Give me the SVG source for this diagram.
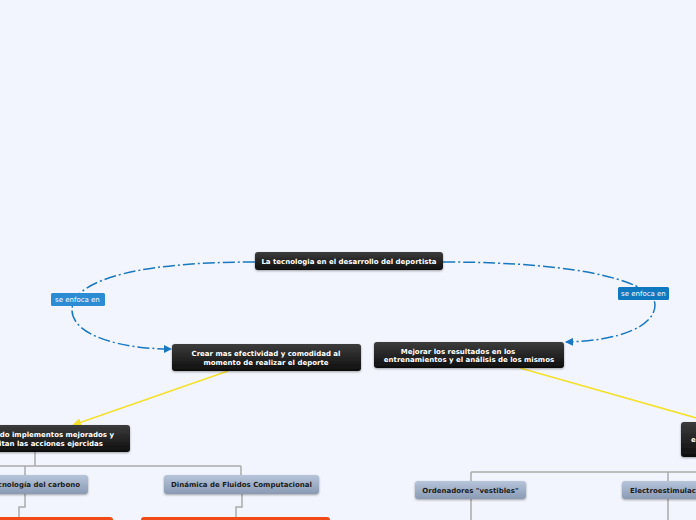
<svg xmlns="http://www.w3.org/2000/svg" width="696" height="520" viewBox="0 0 696 520">
<style>
.dark{fill:url(#gd);}
.gray{fill:url(#gg);}
.orange{fill:#ef4a17;}
.tw{fill:#ffffff;font-family:"DejaVu Sans",sans-serif;font-weight:bold;font-size:7px;}
.tk{fill:#1c1c1c;font-family:"DejaVu Sans",sans-serif;font-weight:bold;font-size:7px;}
.lab{fill:#ffffff;font-family:"DejaVu Sans",sans-serif;font-size:7px;}
.blue{fill:none;stroke:#1878c0;stroke-width:1.5;stroke-dasharray:12,3,2,3;}
.yel{fill:none;stroke:#f5e02a;stroke-width:1.5;}
.gl{fill:none;stroke:#aaaaaa;stroke-width:1.5;}
</style>
<defs>
<linearGradient id="gd" x1="0" y1="0" x2="0" y2="1"><stop offset="0" stop-color="#3c3c3c"/><stop offset="1" stop-color="#0e0e0e"/></linearGradient>
<linearGradient id="gg" x1="0" y1="0" x2="0" y2="1"><stop offset="0" stop-color="#b6c5da"/><stop offset="1" stop-color="#8a9ab3"/></linearGradient>
<filter id="sh" x="-10%" y="-20%" width="120%" height="160%"><feDropShadow dx="0" dy="1" stdDeviation="0.8" flood-color="#000" flood-opacity="0.35"/></filter>
<marker id="ab" markerWidth="8" markerHeight="8" refX="7" refY="4" orient="auto" markerUnits="userSpaceOnUse"><path d="M0,0 L8,4 L0,8 Z" fill="#1878c0"/></marker>
<marker id="ay" markerWidth="9" markerHeight="8" refX="8" refY="4" orient="auto" markerUnits="userSpaceOnUse"><path d="M0,0 L9,4 L0,8 Z" fill="#f5e02a"/></marker>
</defs>
<rect width="696" height="520" fill="#f2f5fd"/>
<g id="connectors">
<path class="blue" d="M255,262 C120,262 72,285 72,310 C72,335 120,349 171,349" marker-end="url(#ab)"/>
<path class="blue" d="M443,262 C590,262 655,284 655,305 C655,326 620,341 566,342" marker-end="url(#ab)"/>
<path class="yel" d="M228,371 L73,425" marker-end="url(#ay)"/>
<path class="yel" d="M520,368 L700,419"/>
<path class="gl" d="M35,452 V466 M0,466 H241 M25,466 V475 M241,466 V475"/>
<path class="gl" d="M25,494 V507 H19 V517 M242,494 V507 H236 V517"/>
<path class="gl" d="M471,472 H700 M471,472 V520 M668,472 V520"/>
<g id="lbl-left"><rect x="51" y="293" width="54" height="13" rx="1.5" fill="#2b8bd3"/><text class="lab" x="55" y="302">se enfoca en</text></g>
<g id="lbl-right"><rect x="618" y="287" width="51" height="13" rx="1.5" fill="#0f78bf"/><text class="lab" x="621" y="296">se enfoca en</text></g>
</g>
<g id="root"><rect class="dark" x="255" y="252" width="188" height="18" rx="3" filter="url(#sh)"/><text class="tw" x="349" y="264" text-anchor="middle">La tecnologia en el desarrollo del deportista</text></g>
<g id="crear"><rect class="dark" x="172" y="344" width="189" height="27" rx="3" filter="url(#sh)"/><text class="tw" x="266" y="356" text-anchor="middle">Crear mas efectividad y comodidad al</text><text class="tw" x="266" y="365" text-anchor="middle">momento de realizar el deporte</text></g>
<g id="mejorar"><rect class="dark" x="374" y="342" width="190" height="26" rx="3" filter="url(#sh)"/><text class="tw" x="458" y="354" text-anchor="middle">Mejorar los resultados en los</text><text class="tw" x="469" y="362" text-anchor="middle">entrenamientos y el análisis de los mismos</text></g>
<g id="implementos"><rect class="dark" x="-20" y="425" width="150" height="27" rx="3" filter="url(#sh)"/><text class="tw" x="114" y="437" text-anchor="end">do implementos mejorados y</text><text class="tw" x="103" y="446" text-anchor="end">itan las acciones ejercidas</text></g>
<g id="right-node"><rect class="dark" x="681" y="422" width="40" height="35" rx="3" filter="url(#sh)"/><text class="tw" x="691" y="442">e</text></g>
<g id="carbono"><rect class="gray" x="-20" y="475" width="108" height="19" rx="3" filter="url(#sh)"/><text class="tk" x="80" y="487" text-anchor="end">Tecnología del carbono</text></g>
<g id="dinamica"><rect class="gray" x="164" y="475" width="155" height="19" rx="3" filter="url(#sh)"/><text class="tk" x="241.5" y="487" text-anchor="middle">Dinámica de Fluidos Computacional</text></g>
<g id="ordenadores"><rect class="gray" x="415" y="481" width="111" height="18" rx="3" filter="url(#sh)"/><text class="tk" x="470.5" y="493" text-anchor="middle">Ordenadores "vestibles"</text></g>
<g id="electro"><rect class="gray" x="622" y="481" width="100" height="18" rx="3" filter="url(#sh)"/><text class="tk" x="630" y="493">Electroestimulación</text></g>
<g id="orange-left"><rect class="orange" x="-20" y="517" width="133" height="14" rx="3"/></g>
<g id="orange-mid"><rect class="orange" x="141" y="517" width="189" height="14" rx="3"/></g>
</svg>
